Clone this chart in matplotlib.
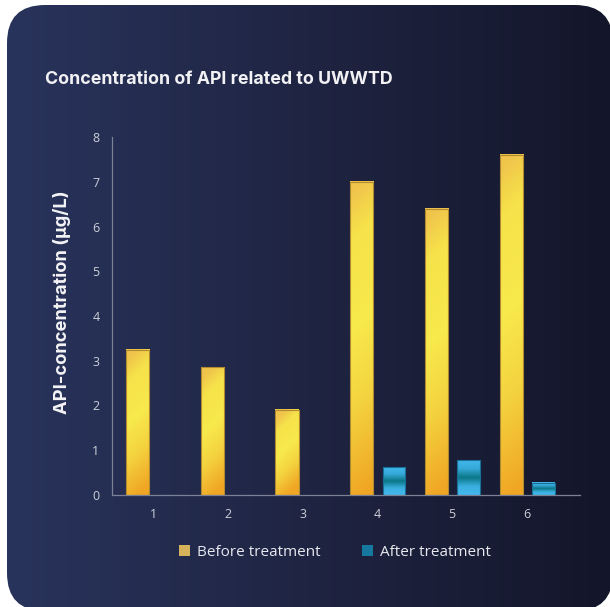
import numpy as np
import matplotlib
matplotlib.use("Agg")
import matplotlib.pyplot as plt
from matplotlib.patches import FancyBboxPatch, Patch
from matplotlib.colors import LinearSegmentedColormap

# data
sites = ["1", "2", "3", "4", "5", "6"]
before = [3.25, 2.85, 1.9, 7.0, 6.4, 7.6]
after = [0.0, 0.0, 0.0, 0.62, 0.78, 0.27]
y_ticks = [0, 1, 2, 3, 4, 5, 6, 7, 8]

title = "Concentration of API related to UWWTD"
ylabel = "API-concentration (µg/L)"
legend_labels = ["Before treatment", "After treatment"]

W, H = 610, 607
fig = plt.figure(figsize=(W / 100, H / 100), dpi=100)
fig.patch.set_facecolor("white")

# card background with horizontal gradient
bg = fig.add_axes([0, 0, 1, 1])
bg.set_xlim(0, W)
bg.set_ylim(H, 0)
bg.axis("off")
card = FancyBboxPatch((7, 5), 606, 606, boxstyle="round,pad=0,rounding_size=38",
                      facecolor="none", edgecolor="none", transform=bg.transData)
bg.add_patch(card)
card_cmap = LinearSegmentedColormap.from_list("card", ["#29345c", "#1f2442", "#13162a"])
grad = np.linspace(0, 1, 256).reshape(1, -1)
im = bg.imshow(grad, cmap=card_cmap, extent=[7, 613, 611, 5], aspect="auto")
im.set_clip_path(card)

fig.text(45 / W, 1 - 79 / H, title, color="#f2f2f4", fontsize=12.8,
         fontweight="bold", family=["Inter", "DejaVu Sans"], va="center", ha="left")

ax = fig.add_axes([112 / W, 1 - 495 / H, (580 - 112) / W, (495 - 137) / H])
ax.patch.set_alpha(0)

x = np.arange(1, len(sites) + 1)
b1 = ax.bar(x - 0.21, before, width=0.31, facecolor="none",
            edgecolor="#b08a30", linewidth=0.8, zorder=3)
b2 = ax.bar(x + 0.22, after, width=0.3, facecolor="none",
            edgecolor="#1a6f96", linewidth=0.8, zorder=3)

yellow = LinearSegmentedColormap.from_list(
    "yel", [(0, "#f0a624"), (0.3, "#f4d340"), (0.55, "#f8e94c"),
            (0.85, "#f6e24a"), (1, "#f0c44c")])
blue = LinearSegmentedColormap.from_list(
    "blu", [(0, "#44baf0"), (0.25, "#3aaedf"), (0.5, "#0b7788"),
            (0.75, "#35a8d6"), (1, "#42b8ee")])

for bars, cmap in [(b1, yellow), (b2, blue)]:
    for rect in bars:
        h = rect.get_height()
        if h <= 0:
            continue
        u = np.linspace(0, 1, 20)
        v = np.linspace(0, 1, 200)
        U, V = np.meshgrid(u, v)
        if cmap is yellow:
            t = np.clip(V - 0.06 * (U - 0.5) * 8 / max(h, 1), 0, 1)
        else:
            t = V
        ax.imshow(t, cmap=cmap, vmin=0, vmax=1, origin="lower", aspect="auto",
                  extent=[rect.get_x(), rect.get_x() + rect.get_width(), 0, h],
                  clip_path=rect, zorder=2, interpolation="bilinear")

ax.set_xlim(0.45, 6.71)
ax.set_ylim(0, 8)
ax.set_xticks(x)
ax.set_xticklabels(sites)
ax.set_yticks(y_ticks)
ax.tick_params(length=0, colors="#cdd0d8", labelsize=9, pad=9)
for lbl in ax.get_xticklabels() + ax.get_yticklabels():
    lbl.set_family(["Open Sans", "DejaVu Sans"])
for s in ["top", "right"]:
    ax.spines[s].set_visible(False)
for s in ["left", "bottom"]:
    ax.spines[s].set_color("#7c8196")
    ax.spines[s].set_linewidth(0.9)

fig.text(62 / W, 1 - 302 / H, ylabel, rotation=90, color="#f4f4f6",
         fontsize=13.2, fontweight="bold", family=["Inter", "DejaVu Sans"],
         ha="center", va="center")

handles = [Patch(facecolor="#d6b35a", edgecolor="none"),
           Patch(facecolor="#17789f", edgecolor="none")]
leg = fig.legend(handles, legend_labels, loc="center", bbox_to_anchor=(335 / W, 1 - 552 / H),
                 ncol=2, frameon=False, handlelength=0.7, handleheight=0.7,
                 handletextpad=0.45, columnspacing=2.7,
                 prop={"family": ["Open Sans", "DejaVu Sans"], "size": 11})
for t in leg.get_texts():
    t.set_color("#e8e9ef")

fig.savefig("out.png", dpi=100)
